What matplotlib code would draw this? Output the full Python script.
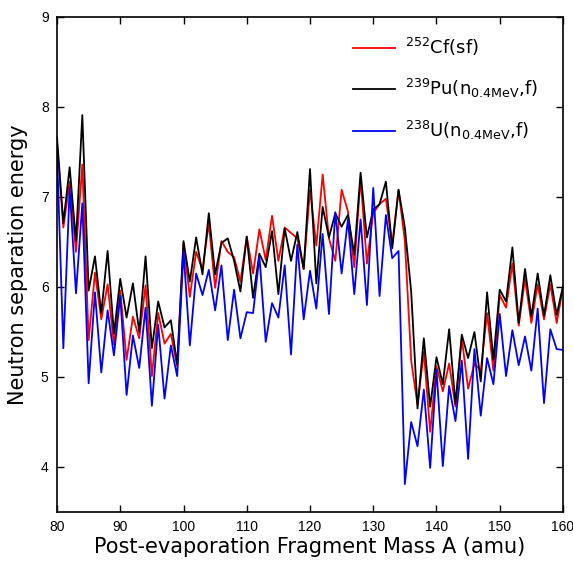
import matplotlib
matplotlib.use("Agg")
import matplotlib.pyplot as plt
import numpy as np

mass = list(range(80, 161))

cf252 = [7.60, 6.66, 7.17, 6.39, 7.36, 5.41, 6.16, 5.64, 6.03, 5.36,
         5.96, 5.19, 5.67, 5.43, 6.02, 5.01, 5.71, 5.37, 5.48, 5.12,
         6.49, 5.89, 6.39, 6.19, 6.71, 5.99, 6.51, 6.39, 6.33, 6.06,
         6.56, 6.15, 6.64, 6.30, 6.79, 6.29, 6.66, 6.60, 6.54, 6.20,
         7.08, 6.46, 7.25, 6.54, 6.29, 7.08, 6.84, 6.22, 7.21, 6.26,
         6.82, 6.92, 6.98, 6.47, 7.08, 6.51, 5.18, 4.69, 5.28, 4.39,
         5.12, 4.84, 5.15, 4.67, 5.43, 4.87, 5.15, 5.07, 5.71, 5.07,
         5.91, 5.77, 6.26, 5.57, 6.09, 5.60, 6.03, 5.64, 6.03, 5.60,
         5.99]

pu239 = [7.66, 6.71, 7.33, 6.51, 7.91, 5.96, 6.34, 5.71, 6.40, 5.48,
         6.09, 5.66, 6.04, 5.50, 6.34, 5.32, 5.84, 5.55, 5.63, 5.14,
         6.51, 6.06, 6.55, 6.14, 6.82, 6.14, 6.49, 6.54, 6.29, 5.95,
         6.56, 5.88, 6.37, 6.22, 6.62, 5.92, 6.65, 6.29, 6.61, 6.20,
         7.31, 6.04, 6.89, 6.55, 6.82, 6.67, 6.80, 6.36, 7.27, 6.55,
         6.86, 6.92, 7.17, 6.43, 7.08, 6.66, 5.95, 4.65, 5.43, 4.67,
         5.22, 4.92, 5.53, 4.70, 5.47, 5.21, 5.50, 4.95, 5.94, 5.19,
         5.97, 5.84, 6.44, 5.60, 6.20, 5.67, 6.15, 5.68, 6.13, 5.69,
         6.01]

u238 = [7.50, 5.32, 7.10, 5.93, 6.93, 4.93, 5.94, 5.05, 5.74, 5.24,
        5.90, 4.80, 5.46, 5.10, 5.77, 4.68, 5.58, 4.76, 5.35, 5.01,
        6.40, 5.35, 6.15, 5.91, 6.19, 5.74, 6.24, 5.41, 5.97, 5.43,
        5.72, 5.71, 6.34, 5.39, 5.82, 5.66, 6.24, 5.25, 6.47, 5.64,
        6.18, 5.76, 6.59, 5.70, 6.83, 6.15, 6.75, 5.92, 6.75, 5.80,
        7.10, 5.90, 6.80, 6.32, 6.40, 3.81, 4.50, 4.23, 4.86, 3.99,
        5.08, 4.01, 4.90, 4.51, 5.18, 4.09, 5.31, 4.57, 5.21, 4.92,
        5.70, 5.01, 5.52, 5.13, 5.45, 5.07, 5.76, 4.71, 5.53, 5.31,
        5.30]

labels = [r"$^{252}$Cf(sf)",
          r"$^{239}$Pu(n$_{\mathrm{0.4MeV}}$,f)",
          r"$^{238}$U(n$_{\mathrm{0.4MeV}}$,f)"]
xticks = [80, 90, 100, 110, 120, 130, 140, 150, 160]
yticks = [4, 5, 6, 7, 8, 9]

plt.rcParams['font.family'] = ['DejaVu Sans']
plt.rcParams['mathtext.fontset'] = 'dejavusans'

fig = plt.figure(figsize=(5.73, 5.62), dpi=100)
ax = fig.add_axes([0.0995, 0.089, 0.883, 0.8808])

ax.plot(mass, cf252, color='#ff0000', lw=1.3, label=labels[0])
ax.plot(mass, pu239, color='#000000', lw=1.3, label=labels[1])
ax.plot(mass, u238, color='#0000ff', lw=1.3, label=labels[2])

ax.set_xlim(80, 160)
ax.set_ylim(3.5, 9)
ax.set_xticks(xticks)
ax.set_yticks(yticks)
ax.tick_params(direction='in', top=True, right=True, length=5, width=1,
               labelsize=10, pad=6)
for lab in ax.get_xticklabels() + ax.get_yticklabels():
    lab.set_family('Liberation Sans')
for s in ax.spines.values():
    s.set_linewidth(1.2)

ax.set_xlabel("Post-evaporation Fragment Mass A (amu)", fontsize=15, labelpad=2)
ax.set_ylabel("Neutron separation energy", fontsize=15, labelpad=9)

leg = ax.legend(loc='upper left', bbox_to_anchor=(353/573, 1-36/562),
                bbox_transform=fig.transFigure, frameon=False, fontsize=13,
                handlelength=2.3, handletextpad=0.6, labelspacing=1.05,
                borderpad=0, borderaxespad=0)

fig.savefig("out.png", dpi=100)
